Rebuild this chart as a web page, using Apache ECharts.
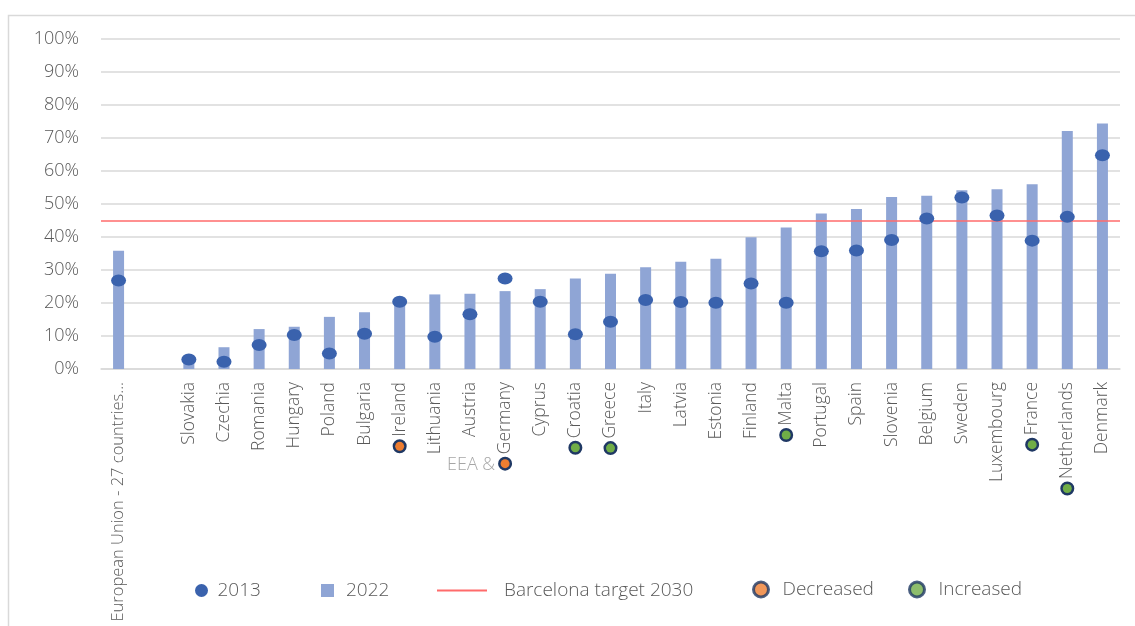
<!DOCTYPE html>
<html>
<head>
<meta charset="utf-8">
<script src="https://cdn.jsdelivr.net/npm/echarts@6/dist/echarts.min.js"></script>
<style>
  html, body { margin: 0; padding: 0; background: #fff; }
  #chart { width: 1135px; height: 626px; }
</style>
</head>
<body>
<div id="chart"></div>
<script>
const categories = ['European Union - 27 countries...', '', 'Slovakia', 'Czechia', 'Romania', 'Hungary', 'Poland', 'Bulgaria', 'Ireland', 'Lithuania', 'Austria', 'Germany', 'Cyprus', 'Croatia', 'Greece', 'Italy', 'Latvia', 'Estonia', 'Finland', 'Malta', 'Portugal', 'Spain', 'Slovenia', 'Belgium', 'Sweden', 'Luxembourg', 'France', 'Netherlands', 'Denmark'];
const values2013 = [26.8, null, 2.9, 2.2, 7.3, 10.3, 4.7, 10.7, 20.4, 9.8, 16.6, 27.4, 20.4, 10.5, 14.3, 20.9, 20.3, 20.1, 25.9, 20.1, 35.7, 35.9, 39.1, 45.6, 52.0, 46.5, 38.9, 46.1, 64.8];
const values2022 = [35.8, null, 3.2, 6.6, 12.1, 12.8, 15.8, 17.2, 20.2, 22.6, 22.8, 23.6, 24.2, 27.4, 28.9, 30.8, 32.5, 33.4, 39.9, 42.9, 47.1, 48.5, 52.1, 52.5, 54.2, 54.5, 56.0, 72.1, 74.4];
const barcelonaTarget = 45;
const decreased = ['Ireland', 'Germany'];
const increased = ['Croatia', 'Greece', 'Malta', 'France', 'Netherlands'];
const yTicks = { min: 0, max: 100, interval: 10 };
const legendNames = ['2013', '2022', 'Barcelona target 2030', 'Decreased', 'Increased'];

const FONT = "'Open Sans', 'DejaVu Sans', sans-serif";
const TXT = '#595959';
const ellipse = 'path://M0,5 A5,5 0 1,1 10,5 A5,5 0 1,1 0,5 Z';

const chart = echarts.init(document.getElementById('chart'), null, { renderer: 'canvas' });

const legendText = { fontSize: 19, color: TXT, fontFamily: FONT, fontWeight: 300, padding: [0, 0, 0, 7] };

const option = {
  animation: false,
  backgroundColor: '#ffffff',
  grid: { left: 101, right: 15, top: 39, bottom: 257, containLabel: false, outerBoundsMode: 'none' },
  graphic: [
    { type: 'rect', shape: { x: 8.5, y: 15.5, width: 1200, height: 700 }, style: { fill: 'none', stroke: '#d9d9d9', lineWidth: 1.5 }, silent: true },
    { type: 'text', left: 447, top: 456, style: { text: 'EEA &', fill: '#a6a6a6', fontSize: 18, fontFamily: FONT, fontWeight: 300 } }
  ],
  legend: [
    { left: 190, top: 576, itemWidth: 16, itemHeight: 13, textStyle: Object.assign({}, legendText, { padding: [0, 0, 0, 3] }),
      data: [{ name: legendNames[0], icon: ellipse }] },
    { left: 316, top: 576, itemWidth: 13, itemHeight: 13, textStyle: legendText,
      data: [{ name: legendNames[1], icon: 'rect' }] },
    { left: 432, top: 576, itemWidth: 50, itemHeight: 2, textStyle: Object.assign({}, legendText, { padding: [0, 0, 0, 12] }),
      data: [{ name: legendNames[2], icon: 'rect', itemStyle: { color: '#ff6b6b' } }] },
    { left: 747, top: 575, itemWidth: 15, itemHeight: 15, textStyle: Object.assign({}, legendText, { padding: [0, 0, 0, 9] }),
      data: [{ name: legendNames[3], icon: 'circle', itemStyle: { color: '#ed7d31', borderColor: '#1f3864', borderWidth: 3 } }] },
    { left: 903, top: 575, itemWidth: 15, itemHeight: 15, textStyle: Object.assign({}, legendText, { padding: [0, 0, 0, 9] }),
      data: [{ name: legendNames[4], icon: 'circle', itemStyle: { color: '#70ad47', borderColor: '#1f3864', borderWidth: 3 } }] }
  ],
  xAxis: {
    type: 'category',
    data: categories,
    boundaryGap: true,
    axisLine: { show: true, lineStyle: { color: '#d9d9d9', width: 1.5 } },
    axisTick: { show: false },
    axisLabel: {
      interval: 0,
      rotate: 90,
      margin: 13,
      fontSize: 17.5,
      color: TXT,
      fontFamily: FONT,
      fontWeight: 300,
      formatter: function (v, i) {
        if (i === 0) return '{eu|' + v + '}';
        if (decreased.indexOf(v) >= 0) return '{dec|}{sp|}' + v;
        if (increased.indexOf(v) >= 0) return '{inc|}{sp|}' + v;
        return v;
      },
      rich: {
        eu: { fontSize: 16.5, color: TXT, fontFamily: FONT, fontWeight: 300 },
        dec: { width: 9, height: 9, borderRadius: 7, backgroundColor: '#ed7d31', borderColor: '#1f3864', borderWidth: 2.5 },
        inc: { width: 9, height: 9, borderRadius: 7, backgroundColor: '#70ad47', borderColor: '#1f3864', borderWidth: 2.5 },
        sp: { width: 5 }
      }
    }
  },
  yAxis: {
    type: 'value',
    min: yTicks.min,
    max: yTicks.max,
    interval: yTicks.interval,
    axisLine: { show: false },
    axisTick: { show: false },
    splitLine: { lineStyle: { color: '#d9d9d9', width: 1.5 } },
    axisLabel: { formatter: '{value}%', fontSize: 18, color: TXT, fontFamily: FONT, fontWeight: 300, margin: 22 }
  },
  series: [
    {
      name: legendNames[0],
      type: 'scatter',
      data: values2013,
      symbol: ellipse,
      symbolSize: [15, 12],
      itemStyle: { color: '#3a62ad', opacity: 1 },
      z: 5
    },
    {
      name: legendNames[1],
      type: 'bar',
      data: values2022,
      barWidth: 11,
      itemStyle: { color: '#8fa5d5' },
      z: 2
    },
    {
      name: legendNames[2],
      type: 'line',
      data: [],
      color: '#ff6b6b',
      symbol: 'none',
      markLine: {
        silent: true,
        symbol: ['none', 'none'],
        label: { show: false },
        lineStyle: { color: '#ff6b6b', width: 1.5, type: 'solid' },
        data: [{ yAxis: barcelonaTarget }]
      },
      z: 3
    },
    { name: legendNames[3], type: 'scatter', data: [], itemStyle: { color: '#ed7d31', borderColor: '#1f3864', borderWidth: 2 } },
    { name: legendNames[4], type: 'scatter', data: [], itemStyle: { color: '#70ad47', borderColor: '#1f3864', borderWidth: 2 } }
  ]
};
chart.setOption(option);
</script>
</body>
</html>
